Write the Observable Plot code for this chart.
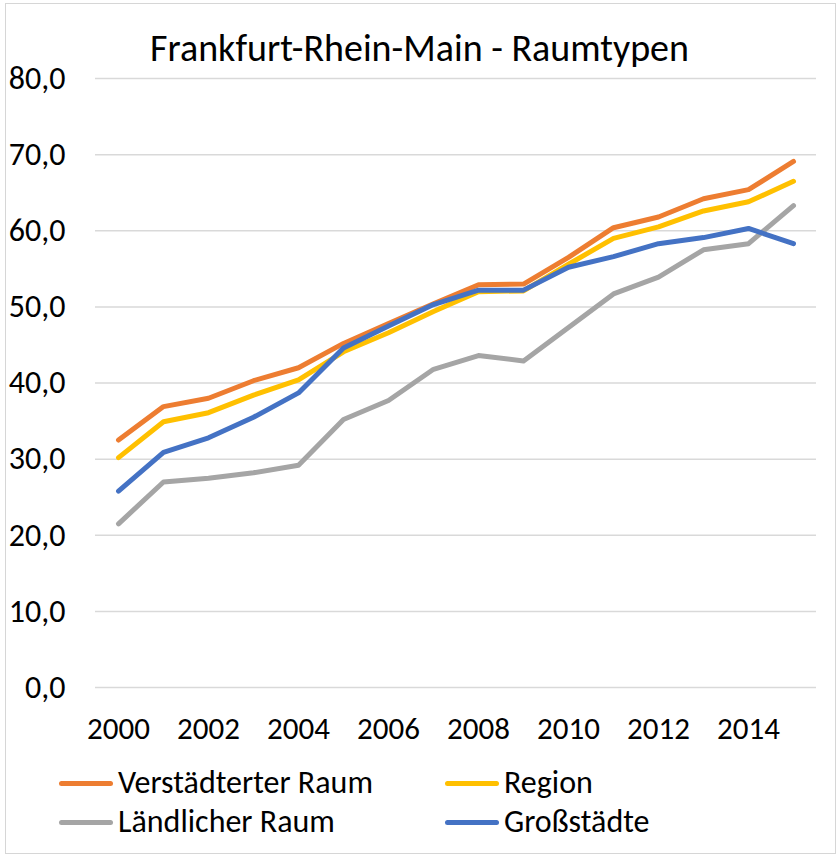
<!DOCTYPE html>
<html>
<head>
<meta charset="utf-8">
<script src="https://cdn.jsdelivr.net/npm/d3@7"></script>
<script src="https://cdn.jsdelivr.net/npm/@observablehq/plot@0.6"></script>
<style>
  html, body { margin: 0; padding: 0; background: #fff; }
  #wrap { position: relative; width: 839px; height: 856px; overflow: hidden; font-family: Carlito, Calibri, "Open Sans", sans-serif; color: #000; }
  #frame { position: absolute; left: 5px; top: 3px; width: 831px; height: 851px; border: 1px solid #d6d6d6; box-sizing: border-box; pointer-events: none; }
  #title { position: absolute; left: 0; width: 839px; top: 26px; text-align: center; font-size: 38px; line-height: 44px; white-space: nowrap; }
  .leg { position: absolute; display: flex; align-items: center; font-size: 32px; line-height: 38px; white-space: nowrap; }
  .sw { display: inline-block; width: 54px; height: 5px; border-radius: 3px; margin-right: 5px; }
  #chart { position: absolute; left: 0; top: 0; }
</style>
</head>
<body>
<div id="wrap">
  <div id="chart"></div>
  <div id="title">Frankfurt-Rhein-Main - Raumtypen</div>
  <div id="legend"></div>
  <div id="frame"></div>
</div>
<script>
const years = [2000,2001,2002,2003,2004,2005,2006,2007,2008,2009,2010,2011,2012,2013,2014,2015];
const seriesNames = ["Verstädterter Raum", "Region", "Ländlicher Raum", "Großstädte"];
const seriesColors = ["#ED7D31", "#FFC000", "#A5A5A5", "#4472C4"];
const verstaedterterRaum = [32.5, 36.9, 38.0, 40.3, 42.0, 45.2, 47.8, 50.4, 52.9, 53.0, 56.5, 60.4, 61.8, 64.2, 65.4, 69.1];
const region            = [30.2, 34.9, 36.1, 38.4, 40.4, 44.1, 46.6, 49.4, 52.0, 52.1, 55.6, 59.0, 60.5, 62.6, 63.8, 66.5];
const laendlicherRaum   = [21.5, 27.0, 27.5, 28.2, 29.2, 35.2, 37.7, 41.8, 43.6, 42.9, 47.3, 51.7, 53.9, 57.5, 58.3, 63.3];
const grossstaedte      = [25.8, 30.9, 32.8, 35.5, 38.7, 44.6, 47.5, 50.3, 52.2, 52.2, 55.2, 56.6, 58.3, 59.1, 60.3, 58.3];
const yTicks = [0, 10, 20, 30, 40, 50, 60, 70, 80];
const xTickYears = [2000, 2002, 2004, 2006, 2008, 2010, 2012, 2014];

const seriesValues = [verstaedterterRaum, region, laendlicherRaum, grossstaedte];
const rows = [];
seriesNames.forEach((name, i) => {
  years.forEach((yr, j) => rows.push({series: name, year: yr, value: seriesValues[i][j]}));
});

const fmt = v => v.toFixed(1).replace(".", ",");

const chart = Plot.plot({
  width: 839,
  height: 856,
  marginLeft: 95,
  marginRight: 23,
  marginTop: 78,
  marginBottom: 169,
  style: { fontFamily: 'Carlito, Calibri, "Open Sans", sans-serif', fontSize: "32px", color: "#000", background: "transparent" },
  x: { type: "point", domain: years, padding: 0.5, label: null },
  y: { domain: [0, 80], label: null },
  color: { domain: seriesNames, range: seriesColors },
  marks: [
    Plot.gridY(yTicks, { stroke: "#d9d9d9", strokeOpacity: 1, strokeWidth: 1.5 }),
    Plot.axisY(yTicks, { tickSize: 0, tickPadding: 30, tickFormat: fmt, fill: "#000", label: null, fontSize: 32 }),
    Plot.axisX(xTickYears, { tickSize: 0, tickPadding: 29, tickFormat: d => String(d), fill: "#000", label: null, fontSize: 31 }),
    Plot.line(rows, { x: "year", y: "value", z: "series", stroke: "series", strokeWidth: 5, strokeLinecap: "round", strokeLinejoin: "round" })
  ]
});
document.getElementById("chart").appendChild(chart);

// legend
const legendPos = [
  {left: 59, top: 764}, {left: 445, top: 764},
  {left: 59, top: 803}, {left: 445, top: 803}
];
const legend = document.getElementById("legend");
seriesNames.forEach((name, i) => {
  const d = document.createElement("div");
  d.className = "leg";
  d.style.left = legendPos[i].left + "px";
  d.style.top = legendPos[i].top + "px";
  const sw = document.createElement("span");
  sw.className = "sw";
  sw.style.background = seriesColors[i];
  const t = document.createElement("span");
  t.textContent = name;
  d.appendChild(sw); d.appendChild(t);
  legend.appendChild(d);
});
</script>
</body>
</html>
